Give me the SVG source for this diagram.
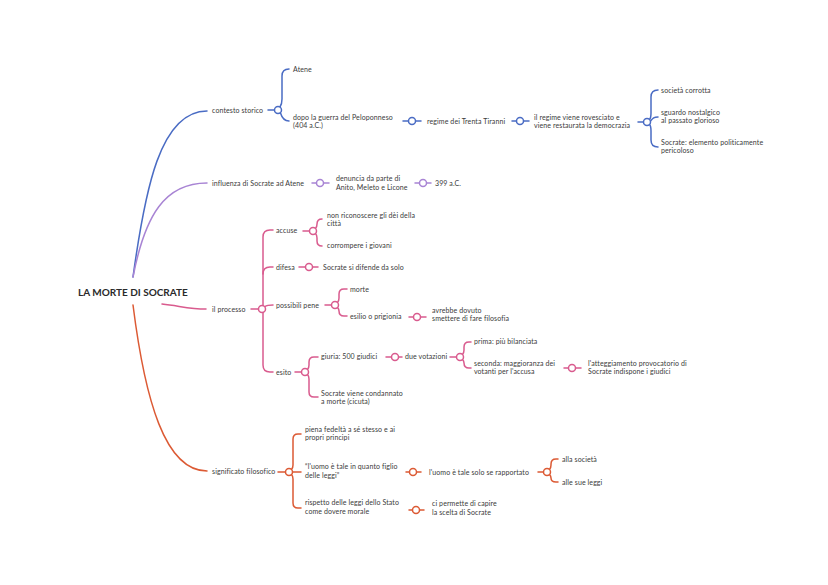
<svg xmlns="http://www.w3.org/2000/svg" width="828" height="585" viewBox="0 0 828 585">
<style>
.t{font-family:Lato,"Noto Sans","Liberation Sans",sans-serif;font-size:7px;letter-spacing:0.1px;fill:#3a3a3a}
.r{font-family:Lato,"Noto Sans","Liberation Sans",sans-serif;font-size:10px;font-weight:bold;fill:#2a2a2a}
path,line{fill:none;stroke-width:1.5;stroke-linecap:round}
circle{fill:#fff;stroke-width:1.5}
.b{stroke:#4a6cc4}
.p{stroke:#a884d4}
.k{stroke:#d95b8e}
.o{stroke:#dc5a34}
</style>
<rect width="828" height="585" fill="#fff"/>
<g id="connectors">
<!-- blue -->
<path class="b" d="M133,277 C145,190 160,111 207,111"/>
<path class="b" d="M268,110 L274.5,110"/>
<path class="b" d="M280,107 Q282,104 282,99 L282,76 Q282,69 289,69"/>
<path class="b" d="M280.5,113 C282,118 284,121 289,121"/>
<line class="b" x1="403" y1="121" x2="421" y2="121"/>
<line class="b" x1="512" y1="121" x2="529" y2="121"/>
<path class="b" d="M638,122 L643.5,122"/>
<path class="b" d="M649.5,119.5 Q651,118 651,113 L651,97 Q651,90 658,90"/>
<path class="b" d="M650.5,121 C653,118 654,117 658,117"/>
<path class="b" d="M649.5,124.5 Q651,126 651,131 L651,140 Q651,147 658,147"/>
<circle class="b" cx="278" cy="110" r="3.5"/>
<circle class="b" cx="412" cy="121" r="3.5"/>
<circle class="b" cx="520" cy="121" r="3.5"/>
<circle class="b" cx="647" cy="122" r="3.5"/>
<!-- purple -->
<path class="p" d="M133,277 C145,215 165,183 207,183"/>
<line class="p" x1="312" y1="183" x2="329" y2="183"/>
<line class="p" x1="415" y1="183" x2="431" y2="183"/>
<circle class="p" cx="320" cy="183" r="3.5"/>
<circle class="p" cx="423" cy="183" r="3.5"/>
<!-- pink -->
<path class="k" d="M162,304 C180,306 190,309 206,309"/>
<path class="k" d="M251,309 L258.5,309"/>
<path class="k" d="M263,305.5 L263,237 Q263,230 270,230 L273,230"/>
<path class="k" d="M263,274 Q263,267 270,267 L273,267"/>
<path class="k" d="M265,306.5 C267,305 268,305 273,305"/>
<path class="k" d="M263,312.5 L263,365 Q263,372 270,372 L273,372"/>
<path class="k" d="M303,231 L309.5,231"/>
<path class="k" d="M315.5,228.5 Q317,227 317,224 Q317,219 322,219"/>
<path class="k" d="M315.5,233.5 Q317,235 317,238 L317,241 Q317,246 322,246"/>
<line class="k" x1="299" y1="267" x2="318" y2="267"/>
<path class="k" d="M325,305 L331.5,305"/>
<path class="k" d="M337.5,302.5 Q339,301 339,298 L339,294 Q339,289 344,289 L347,289"/>
<path class="k" d="M337.5,307.5 Q339,309 339,311 Q339,316 344,316 L347,316"/>
<line class="k" x1="409" y1="317" x2="426" y2="317"/>
<path class="k" d="M295,372 L301.5,372"/>
<path class="k" d="M307.5,369.5 Q309,368 309,365 L309,362 Q309,357 314,357 L318,357"/>
<path class="k" d="M307.5,374.5 Q309,376 309,379 L309,392 Q309,397 314,397 L318,397"/>
<line class="k" x1="386" y1="357" x2="402" y2="357"/>
<path class="k" d="M450,357 L456.5,357"/>
<path class="k" d="M462.5,354.5 Q464,353 464,350 L464,347 Q464,342 469,342 L471,342"/>
<path class="k" d="M462.5,359.5 Q464,361 464,363 Q464,368 469,368 L471,368"/>
<line class="k" x1="564" y1="368" x2="581" y2="368"/>
<circle class="k" cx="262" cy="309" r="3.5"/>
<circle class="k" cx="313" cy="231" r="3.5"/>
<circle class="k" cx="309" cy="267" r="3.5"/>
<circle class="k" cx="335" cy="305" r="3.5"/>
<circle class="k" cx="417" cy="317" r="3.5"/>
<circle class="k" cx="305" cy="372" r="3.5"/>
<circle class="k" cx="395" cy="357" r="3.5"/>
<circle class="k" cx="460" cy="357" r="3.5"/>
<circle class="k" cx="572" cy="368" r="3.5"/>
<!-- orange -->
<path class="o" d="M133,305 C145,400 165,471 207,471"/>
<path class="o" d="M278,472 L285.5,472"/>
<path class="o" d="M291.5,469.5 Q293,468 293,465 L293,439 Q293,434 298,434 L301,434"/>
<path class="o" d="M292.5,472 L301,472"/>
<path class="o" d="M291.5,474.5 Q293,476 293,479 L293,503 Q293,508 298,508 L301,508"/>
<line class="o" x1="406" y1="472" x2="421" y2="472"/>
<path class="o" d="M538,472 L543.5,472"/>
<path class="o" d="M549.5,469.5 Q551,468 551,465 L551,464 Q551,459 556,459 L558,459"/>
<path class="o" d="M549.5,474.5 Q551,476 551,478 Q551,482 556,482 L558,482"/>
<line class="o" x1="409" y1="510" x2="424" y2="510"/>
<circle class="o" cx="289" cy="472" r="3.5"/>
<circle class="o" cx="413" cy="472" r="3.5"/>
<circle class="o" cx="547" cy="472" r="3.5"/>
<circle class="o" cx="416" cy="510" r="3.5"/>
</g>
<g id="root"><text class="r" x="78" y="296">LA MORTE DI SOCRATE</text></g>
<g id="n-contesto"><text class="t" x="212" y="112.5">contesto storico</text></g>
<g id="n-atene"><text class="t" x="293" y="71.5">Atene</text></g>
<g id="n-dopo"><text class="t" x="293" y="119.5">dopo la guerra del Peloponneso</text><text class="t" x="293" y="127.5">(404 a.C.)</text></g>
<g id="n-regime"><text class="t" x="427" y="123.5">regime dei Trenta Tiranni</text></g>
<g id="n-rovesciato"><text class="t" x="534" y="119.5">il regime viene rovesciato e</text><text class="t" x="534" y="127.5">viene restaurata la democrazia</text></g>
<g id="n-societa"><text class="t" x="661" y="92.5">società corrotta</text></g>
<g id="n-sguardo"><text class="t" x="661" y="115">sguardo nostalgico</text><text class="t" x="661" y="123">al passato glorioso</text></g>
<g id="n-elemento"><text class="t" x="661" y="144.5">Socrate: elemento politicamente</text><text class="t" x="661" y="153">pericoloso</text></g>
<g id="n-influenza"><text class="t" x="212" y="185.5">influenza di Socrate ad Atene</text></g>
<g id="n-denuncia"><text class="t" x="336" y="180.5">denuncia da parte di</text><text class="t" x="336" y="189.5">Anito, Meleto e Licone</text></g>
<g id="n-399"><text class="t" x="435" y="185.5">399 a.C.</text></g>
<g id="n-processo"><text class="t" x="212" y="311.5">il processo</text></g>
<g id="n-accuse"><text class="t" x="276" y="232.5">accuse</text></g>
<g id="n-dei"><text class="t" x="327" y="217.5">non riconoscere gli dèi della</text><text class="t" x="327" y="226">città</text></g>
<g id="n-giovani"><text class="t" x="327" y="248">corrompere i giovani</text></g>
<g id="n-difesa"><text class="t" x="276" y="269.5">difesa</text></g>
<g id="n-solo"><text class="t" x="323" y="270">Socrate si difende da solo</text></g>
<g id="n-pene"><text class="t" x="276" y="307.5">possibili pene</text></g>
<g id="n-morte"><text class="t" x="350" y="291.5">morte</text></g>
<g id="n-esilio"><text class="t" x="350" y="318.5">esilio o prigionia</text></g>
<g id="n-avrebbe"><text class="t" x="432" y="312.5">avrebbe dovuto</text><text class="t" x="432" y="321">smettere di fare filosofia</text></g>
<g id="n-esito"><text class="t" x="276" y="374.5">esito</text></g>
<g id="n-giuria"><text class="t" x="321" y="359">giuria: 500 giudici</text></g>
<g id="n-votazioni"><text class="t" x="405" y="359">due votazioni</text></g>
<g id="n-prima"><text class="t" x="474" y="344">prima: più bilanciata</text></g>
<g id="n-seconda"><text class="t" x="474" y="365.5">seconda: maggioranza dei</text><text class="t" x="474" y="374">votanti per l'accusa</text></g>
<g id="n-atteggiamento"><text class="t" x="588" y="365.5">l'atteggiamento provocatorio di</text><text class="t" x="588" y="374">Socrate indispone i giudici</text></g>
<g id="n-condannato"><text class="t" x="321" y="395.5">Socrate viene condannato</text><text class="t" x="321" y="404">a morte (cicuta)</text></g>
<g id="n-significato"><text class="t" x="212" y="474">significato filosofico</text></g>
<g id="n-fedelta"><text class="t" x="305" y="431.5">piena fedeltà a sé stesso e ai</text><text class="t" x="305" y="440">propri principi</text></g>
<g id="n-figlio"><text class="t" x="305" y="469">“l'uomo è tale in quanto figlio</text><text class="t" x="305" y="477.5">delle leggi”</text></g>
<g id="n-rispetto"><text class="t" x="305" y="505">rispetto delle leggi dello Stato</text><text class="t" x="305" y="514">come dovere morale</text></g>
<g id="n-rapportato"><text class="t" x="429" y="474.5">l'uomo è tale solo se rapportato</text></g>
<g id="n-alla"><text class="t" x="562" y="461.5">alla società</text></g>
<g id="n-leggi"><text class="t" x="562" y="484.5">alle sue leggi</text></g>
<g id="n-capire"><text class="t" x="432" y="505.5">ci permette di capire</text><text class="t" x="432" y="514.5">la scelta di Socrate</text></g>
</svg>
